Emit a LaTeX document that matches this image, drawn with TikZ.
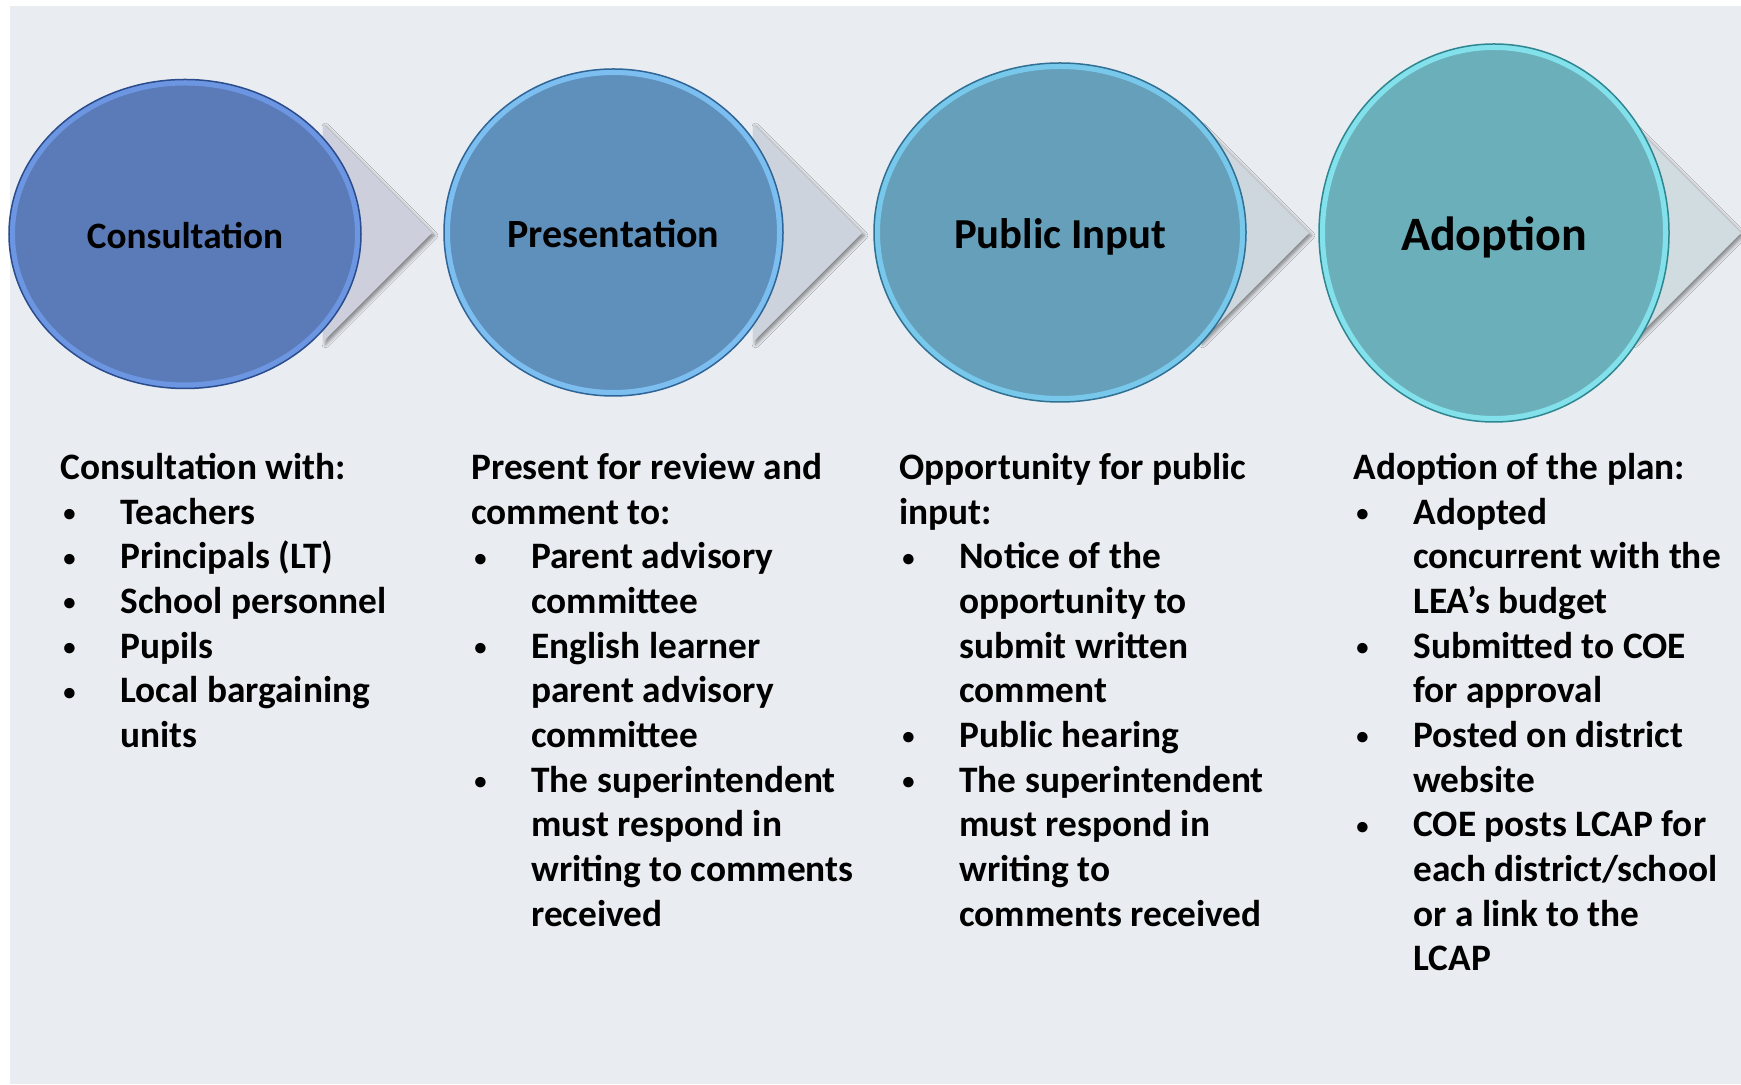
\documentclass[tikz,border=0pt]{standalone}
\usepackage{fontspec}
\setmainfont{Carlito}
\usetikzlibrary{shapes.geometric,shadows.blur}

\definecolor{bgc}{HTML}{E9ECF1}
\definecolor{chevA}{HTML}{CDD0DC}
\definecolor{chevB}{HTML}{CDD3DC}
\definecolor{chevC}{HTML}{CFD7DE}
\definecolor{chevD}{HTML}{D0DCDF}
\definecolor{fillA}{HTML}{5B7BB8}
\definecolor{fillB}{HTML}{5E90BB}
\definecolor{fillC}{HTML}{659FBA}
\definecolor{fillD}{HTML}{6BAFBA}
\definecolor{ringA}{HTML}{6C96E1}
\definecolor{ringB}{HTML}{7DBEF0}
\definecolor{ringC}{HTML}{78C8EB}
\definecolor{ringD}{HTML}{82E1EB}
\definecolor{lineA}{HTML}{2B4C8C}
\definecolor{lineB}{HTML}{2F6496}
\definecolor{lineC}{HTML}{2F7093}
\definecolor{lineD}{HTML}{2F8690}

\newcommand{\bulitem}{\makebox[1.2cm][l]{\hspace*{0.06cm}\raisebox{1.6pt}{\fontsize{14}{14}\selectfont •}}}
\newcommand{\bulcont}{\hspace*{1.2cm}}

\tikzset{
  stage/.style={ellipse,line width=0.12cm,inner sep=0pt,text depth=0pt},
  rim/.style={line width=0.03cm},
  chevron/.style={blur shadow={shadow xshift=0.05cm,shadow yshift=-0.05cm,shadow blur steps=6,shadow opacity=45}},
  steptext/.style={anchor=base west,inner sep=0pt,font=\bfseries\fontsize{21.25}{25.42}\selectfont}
}

\begin{document}
\begin{tikzpicture}

\useasboundingbox (0,0) rectangle (34.82,21.68);
\fill[white] (0,0) rectangle (34.82,21.68);
\fill[bgc] (0.2,0) rectangle (34.82,21.56);

% chevrons
\fill[chevA,chevron] (6.46,19.2)--(8.64,17.02)--(6.46,14.84)--cycle;
\fill[chevB,chevron] (15.06,19.2)--(17.24,17.02)--(15.06,14.84)--cycle;
\fill[chevC,chevron] (24.0,19.2)--(26.18,17.02)--(24.0,14.84)--cycle;
\fill[chevD,chevron] (32.64,19.2)--(34.82,17.02)--(32.64,14.84)--cycle;

% stages
\node[stage,draw=ringA,fill=fillA,minimum width=6.92cm,minimum height=6.06cm,text height=16.2pt,font=\bfseries\fontsize{21.2}{25}\selectfont] (consult) at (3.70,17.00) {Consultation};
\draw[rim,lineA] (consult.center) ellipse [x radius=3.52cm,y radius=3.09cm];

\node[stage,draw=ringB,fill=fillB,minimum width=6.66cm,minimum height=6.42cm,text height=17.2pt,font=\bfseries\fontsize{22.8}{27}\selectfont] (present) at (12.27,17.03) {Presentation};
\draw[rim,lineB] (present.center) ellipse [x radius=3.39cm,y radius=3.27cm];

\node[stage,draw=ringC,fill=fillC,minimum width=7.32cm,minimum height=6.66cm,text height=18.1pt,font=\bfseries\fontsize{24.3}{29}\selectfont] (public) at (21.20,17.03) {Public Input};
\draw[rim,lineC] (public.center) ellipse [x radius=3.72cm,y radius=3.39cm];

\node[stage,draw=ringD,fill=fillD,minimum width=6.88cm,minimum height=7.44cm,text height=20.1pt,font=\bfseries\fontsize{27.3}{32}\selectfont] (adopt) at (29.88,17.02) {Adoption};
\draw[rim,lineD] (adopt.center) ellipse [x radius=3.50cm,y radius=3.78cm];

% descriptions
\node[steptext] (consultlist) at (1.20,12.09) {\begin{tabular}[t]{@{}l@{}}
Consultation with:\\
\bulitem Teachers\\
\bulitem Principals (LT)\\
\bulitem School personnel\\
\bulitem Pupils\\
\bulitem Local bargaining\\
\bulcont units
\end{tabular}};

\node[steptext] (presentlist) at (9.42,12.09) {\begin{tabular}[t]{@{}l@{}}
Present for review and\\
comment to:\\
\bulitem Parent advisory\\
\bulcont committee\\
\bulitem English learner\\
\bulcont parent advisory\\
\bulcont committee\\
\bulitem The superintendent\\
\bulcont must respond in\\
\bulcont writing to comments\\
\bulcont received
\end{tabular}};

\node[steptext] (publiclist) at (17.98,12.09) {\begin{tabular}[t]{@{}l@{}}
Opportunity for public\\
input:\\
\bulitem Notice of the\\
\bulcont opportunity to\\
\bulcont submit written\\
\bulcont comment\\
\bulitem Public hearing\\
\bulitem The superintendent\\
\bulcont must respond in\\
\bulcont writing to\\
\bulcont comments received
\end{tabular}};

\node[steptext] (adoptlist) at (27.06,12.09) {\begin{tabular}[t]{@{}l@{}}
Adoption of the plan:\\
\bulitem Adopted\\
\bulcont concurrent with the\\
\bulcont LEA’s budget\\
\bulitem Submitted to COE\\
\bulcont for approval\\
\bulitem Posted on district\\
\bulcont website\\
\bulitem COE posts LCAP for\\
\bulcont each district/school\\
\bulcont or a link to the\\
\bulcont LCAP
\end{tabular}};

\end{tikzpicture}
\end{document}
